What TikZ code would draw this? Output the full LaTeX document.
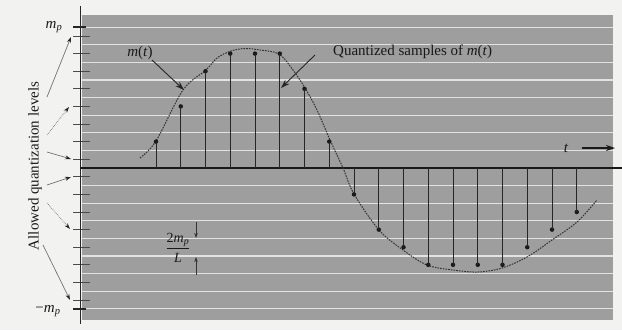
\documentclass[tikz,border=0pt]{standalone}
\usepackage{fontspec}
\setmainfont{Liberation Serif}
\usetikzlibrary{arrows.meta}
\definecolor{pagebg}{RGB}{242,242,240}
\definecolor{plotgray}{RGB}{158,158,158}
\definecolor{gridwhite}{RGB}{226,226,226}
\newcommand{\itx}[1]{\textit{#1}}
\begin{document}
\begin{tikzpicture}[x=1pt,y=-1pt,
  lbl/.style={font=\fontsize{15}{18}\selectfont, inner sep=0pt, text=black!90},
  tickmark/.style={draw=black!70, line width=1pt},
  endtick/.style={draw=black!85, line width=1.6pt},
  stem/.style={draw=black!85, line width=1pt},
  sdot/.style={circle, fill=black!90, inner sep=0pt, minimum size=4.5pt},
  pointer/.style={draw=black!85, line width=0.9pt, -{Stealth[length=9pt,width=6pt]}},
  levelarrow/.style={draw=black!55, line width=0.7pt, -{Stealth[length=6pt,width=4pt,color=black!85]}},
  dimarrow/.style={draw=black!80, line width=0.6pt, -{Stealth[length=5pt,width=3.5pt]}},
  signal/.style={draw=black!80, line width=1pt, dash pattern=on 1.6pt off 1.1pt}
]
\useasboundingbox (0,0) rectangle (622,330);
\fill[pagebg] (0,0) rectangle (622,330);
% plot area
\fill[plotgray] (82,15) rectangle (613,320);
\foreach \k in {1,...,8}{
  \draw[gridwhite, line width=1.3pt] (82,168-17.6*\k) -- (613,168-17.6*\k);
  \draw[gridwhite, line width=1.3pt] (82,168+17.6*\k) -- (613,168+17.6*\k);
}
% level ticks
\foreach \k in {1,...,8}{
  \draw[tickmark] (73,168-17.6*\k+8.8) -- (90,168-17.6*\k+8.8);
  \draw[tickmark] (73,168+17.6*\k-8.8) -- (90,168+17.6*\k-8.8);
}
\draw[endtick] (73,27.2) -- (86,27.2);
\draw[endtick] (73,308.8) -- (86,308.8);
% axes
\coordinate (ytop) at (80,6);
\coordinate (ybot) at (80,324);
\draw[black!85, line width=0.9pt] (ytop) -- (ybot);
\coordinate (xleft) at (80,168);
\coordinate (xright) at (622,168);
\draw[black!90, line width=1.3pt] (xleft) -- (xright);
% signal
\draw[signal] plot[smooth, tension=0.55] coordinates {
 (140,158) (156,141) (183,90) (206,70) (217,58) (231,51) (245,48.5) (260,50)
 (279,54) (293,70) (305,88) (317,110) (330,140) (343,168) (354,194) (379,230)
 (403,250) (427,265) (453,270) (478,272) (502,268) (527,257) (552,240)
 (577,222) (597,200)};
% samples
\foreach \i/\yv in {0/141.6,1/106.4,2/71.2,3/53.6,4/53.6,5/53.6,6/88.8,7/141.6,8/194.4,
  9/229.6,10/247.2,11/264.8,12/264.8,13/264.8,14/264.8,15/247.2,16/229.6,17/212}{
  \coordinate (b\i) at (156+24.75*\i,168);
  \node[sdot] (s\i) at (156+24.75*\i,\yv) {};
  \draw[stem] (b\i) -- (s\i.center);
}
% labels
\node[lbl] (mp) at (54,27) {\itx{m}\textsubscript{\itx{p}}};
\node[lbl] (mmp) at (48,311) {\textminus\itx{m}\textsubscript{\itx{p}}};
\node[lbl, rotate=90] (levels) at (35,166) {Allowed quantization levels};
\node[lbl] (mt) at (140,53) {\itx{m}(\itx{t})};
\coordinate (mttip) at (184,90);
\draw[pointer] (152,60) -- (mttip);
\node[lbl, anchor=west] (qs) at (333,52) {Quantized samples of \itx{m}(\itx{t})};
\coordinate (qstail) at (315,55);
\coordinate (qstip) at (281,88);
\draw[pointer] (qstail) -- (qstip);
\node[lbl] (tl) at (566,148) {\itx{t}};
\coordinate (ttail) at (582,148);
\coordinate (thead) at (615,148);
\draw[black!90, line width=1.3pt, -{Stealth[length=9pt,width=6pt]}] (ttail) -- (thead);
% step size
\node[font=\fontsize{14}{16}\selectfont, inner sep=0pt, text=black!90] (step) at (178,249)
  {\begin{tabular}{@{}c@{}}2\itx{m}\textsubscript{\itx{p}}\\[1pt]\hline\noalign{\vskip3pt}\itx{L}\end{tabular}};
\coordinate (da1) at (196,222);
\coordinate (da2) at (196,238);
\coordinate (ua1) at (196,275);
\coordinate (ua2) at (196,257);
\draw[dimarrow] (da1) -- (da2);
\draw[dimarrow] (ua1) -- (ua2);
% level pointers
\coordinate (p1s) at (47,97);   \coordinate (p1e) at (71,37);
\coordinate (p2s) at (47,135);  \coordinate (p2e) at (69,107);
\coordinate (p3s) at (47,152);  \coordinate (p3e) at (71,159);
\coordinate (p4s) at (47,185);  \coordinate (p4e) at (71,177);
\coordinate (p5s) at (47,203);  \coordinate (p5e) at (70,229);
\coordinate (p6s) at (43,245);  \coordinate (p6e) at (70,300);
\draw[levelarrow] (p1s) -- (p1e);
\draw[levelarrow, densely dotted] (p2s) -- (p2e);
\draw[levelarrow] (p3s) -- (p3e);
\draw[levelarrow] (p4s) -- (p4e);
\draw[levelarrow, densely dotted] (p5s) -- (p5e);
\draw[levelarrow] (p6s) -- (p6e);
\end{tikzpicture}
\end{document}
